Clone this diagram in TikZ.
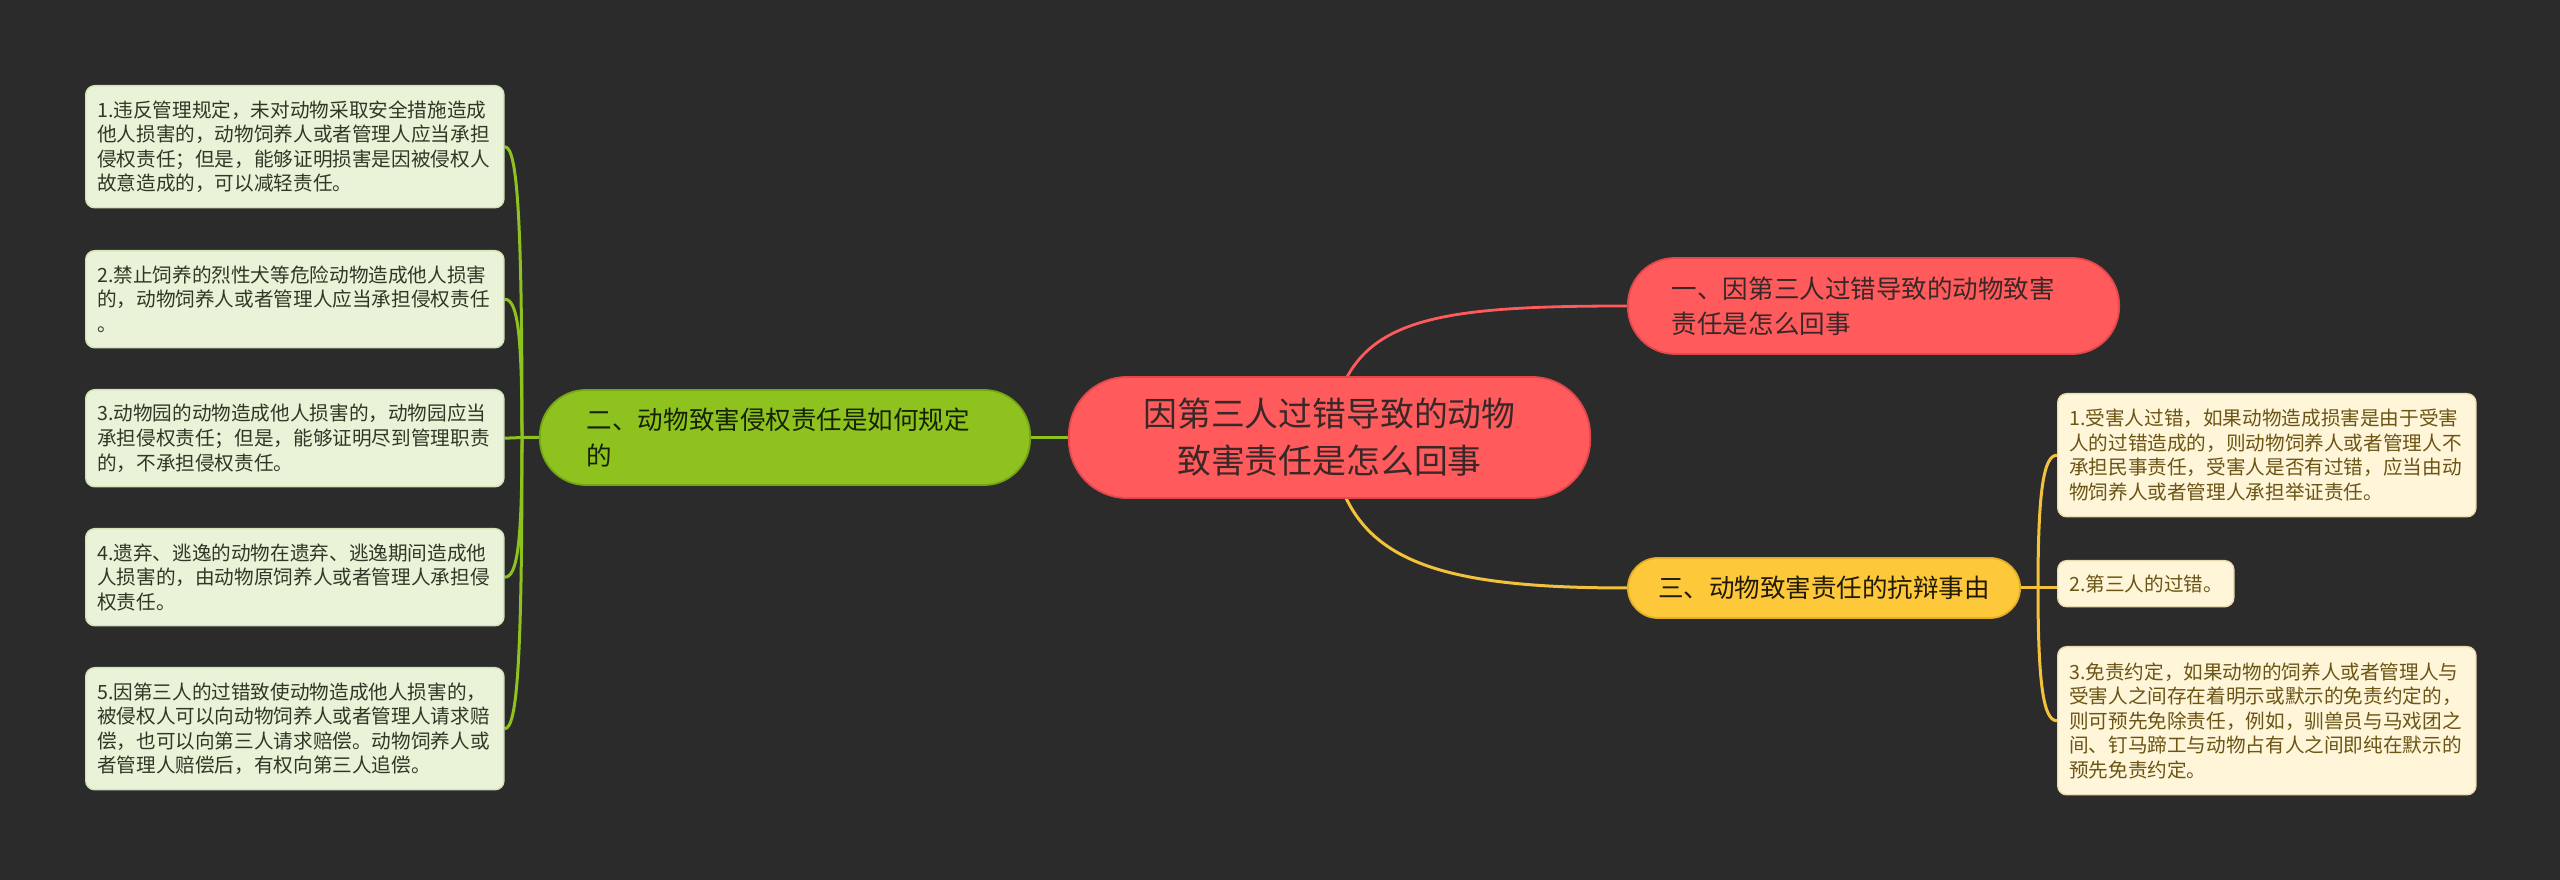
\documentclass[tikz,border=0pt]{standalone}
\usepackage{fontspec}
\setmainfont{Noto Sans CJK SC}
\usetikzlibrary{backgrounds}
\definecolor{bgc}{HTML}{2B2B2B}
\definecolor{redc}{HTML}{FF5A5C}
\definecolor{redb}{HTML}{E2474A}
\definecolor{greenc}{HTML}{8DC21F}
\definecolor{greenb}{HTML}{74A514}
\definecolor{yelc}{HTML}{FDC93A}
\definecolor{yelb}{HTML}{E3AE26}
\definecolor{yline}{HTML}{F2C23C}
\definecolor{leafLf}{HTML}{EAF3D8}
\definecolor{leafLb}{HTML}{D2E3B6}
\definecolor{leafLt}{HTML}{2F3826}
\definecolor{leafRf}{HTML}{FFF6DA}
\definecolor{leafRb}{HTML}{EADCB0}
\definecolor{leafRt}{HTML}{6B5414}
\definecolor{darkt}{HTML}{3A2828}
\begin{document}
\begin{tikzpicture}[x=0.01cm,y=-0.01cm,
  leafbase/.style={anchor=north west, rounded corners=0.09cm, align=left,
    inner xsep=0.115cm, inner ysep=0pt, line width=0.4pt,
    font=\fontsize{5.58pt}{6.97pt}\selectfont},
  leafL/.style={leafbase, fill=leafLf, draw=leafLb, text=leafLt, text width=3.95cm},
  leafR/.style={leafbase, fill=leafRf, draw=leafRb, text=leafRt, text width=3.95cm},
  topic/.style={inner ysep=0pt, line width=0.5pt, text=darkt,
    font=\fontsize{7.26pt}{9.96pt}\selectfont},
  gline/.style={draw=greenc, line width=0.03cm},
  rline/.style={draw=redc, line width=0.028cm},
  yl/.style={draw=yline, line width=0.03cm}
]
% nodes
\node[fill=redc, draw=redb, line width=0.5pt, rounded corners=0.58cm,
  minimum width=5.21cm, minimum height=1.21cm, align=center, text=darkt,
  font=\fontsize{9.62pt}{13.4pt}\selectfont] (c) at (1329.5,437.5)
  {因第三人过错导致的动物\\致害责任是怎么回事};
\node[topic, fill=greenc, draw=greenb, rounded corners=0.46cm,
  minimum width=4.90cm, minimum height=0.95cm, text width=3.96cm,
  inner xsep=0.47cm, align=left, text=black!80!greenb] (g) at (785,437.5)
  {二、动物致害侵权责任是如何规定\\的};
\node[topic, fill=redc, draw=redb, rounded corners=0.47cm,
  minimum width=4.91cm, minimum height=0.96cm, text width=4.03cm,
  inner xsep=0.44cm, align=left] (r) at (1873.5,306)
  {一、因第三人过错导致的动物致害\\责任是怎么回事};
\node[topic, fill=yelc, draw=yelb, rounded corners=0.30cm,
  minimum width=3.92cm, minimum height=0.60cm, align=center,
  text=black!85!yelb] (y) at (1824,588)
  {三、动物致害责任的抗辩事由};

\node[leafL, minimum height=1.22cm] (l1) at (85,85)
  {1.违反管理规定，未对动物采取安全措施造成\\他人损害的，动物饲养人或者管理人应当承担\\侵权责任；但是，能够证明损害是因被侵权人\\故意造成的，可以减轻责任。};
\node[leafL, minimum height=0.97cm] (l2) at (85,250)
  {2.禁止饲养的烈性犬等危险动物造成他人损害\\的，动物饲养人或者管理人应当承担侵权责任\\。};
\node[leafL, minimum height=0.97cm] (l3) at (85,389)
  {3.动物园的动物造成他人损害的，动物园应当\\承担侵权责任；但是，能够证明尽到管理职责\\的，不承担侵权责任。};
\node[leafL, minimum height=0.97cm] (l4) at (85,528)
  {4.遗弃、逃逸的动物在遗弃、逃逸期间造成他\\人损害的，由动物原饲养人或者管理人承担侵\\权责任。};
\node[leafL, minimum height=1.22cm] (l5) at (85,667)
  {5.因第三人的过错致使动物造成他人损害的，\\被侵权人可以向动物饲养人或者管理人请求赔\\偿，也可以向第三人请求赔偿。动物饲养人或\\者管理人赔偿后，有权向第三人追偿。};

\node[leafR, minimum height=1.23cm] (r1) at (2057,393)
  {1.受害人过错，如果动物造成损害是由于受害\\人的过错造成的，则动物饲养人或者管理人不\\承担民事责任，受害人是否有过错，应当由动\\物饲养人或者管理人承担举证责任。};
\node[leafR, minimum height=0.46cm, text width=1.53cm] (r2) at (2057,560)
  {2.第三人的过错。};
\node[leafR, minimum height=1.48cm] (r3) at (2057,646)
  {3.免责约定，如果动物的饲养人或者管理人与\\受害人之间存在着明示或默示的免责约定的，\\则可预先免除责任，例如，驯兽员与马戏团之\\间、钉马蹄工与动物占有人之间即纯在默示的\\预先免责约定。};

% connectors
\begin{scope}[on background layer]
\fill[bgc] (0,0) rectangle (2560,880);
\coordinate (jl) at (522,437.5);
\coordinate (jr) at (2038,588);
\draw[gline] (g.west) -- (jl) -- (l3.east);
\draw[gline] (c.center) -- (g.east);
\draw[gline] (l1.east) .. controls +(13,0) and +(0,-218) .. (jl);
\draw[gline] (l2.east) .. controls +(13,0) and +(0,-104) .. (jl);
\draw[gline] (l4.east) .. controls +(13,0) and +(0,104) .. (jl);
\draw[gline] (l5.east) .. controls +(13,0) and +(0,218) .. (jl);
\draw[rline] (c.center) .. controls +(15,-117) and +(-210,0) .. (r.west);
\draw[yl] (c.center) .. controls +(15,117) and +(-210,0) .. (y.west);
\draw[yl] (y.east) -- (jr) -- (jr -| r2.west);
\draw[yl] (r1.west) .. controls +(-13,0) and +(0,-100) .. (jr);
\draw[yl] (r3.west) .. controls +(-13,0) and +(0,100) .. (jr);
\end{scope}
\end{tikzpicture}
\end{document}
